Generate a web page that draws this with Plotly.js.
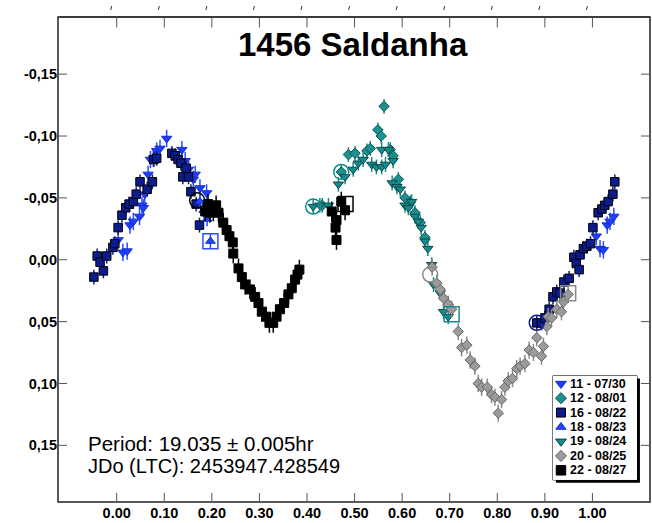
<!DOCTYPE html>
<html>
<head>
<meta charset="utf-8">
<script src="https://cdn.plot.ly/plotly-3.0.1.min.js"></script>
<style>
  html, body { margin: 0; padding: 0; background: #ffffff; }
  #chart { width: 652px; height: 523px; }
</style>
</head>
<body>
<div id="chart"></div>
<script>
// Session labels, in legend order
const sessionNames = ['11 - 07/30', '12 - 08/01', '16 - 08/22', '18 - 08/23', '19 - 08/24', '20 - 08/25', '22 - 08/27'];

// Phased photometry: rotational phase and reduced magnitude per session
const s11Phase = [0.003, 0.013, 0.022, 0.028, 0.035, 0.048, 0.053, 0.056, 0.059, 0.066, 0.071, 0.077, 0.084, 0.091, 0.105, 0.137, 0.144, 0.151, 0.161, 0.165, 0.175, 0.189, 1.008, 1.016, 1.023, 1.031, 1.037, 1.045];
const s11Mag   = [-0.016, -0.006, -0.007, -0.028, -0.031, -0.035, -0.044, -0.042, -0.053, -0.069, -0.081, -0.082, -0.088, -0.090, -0.098, -0.089, -0.080, -0.073, -0.065, -0.069, -0.058, -0.054, -0.019, -0.009, -0.008, -0.028, -0.031, -0.035];

const s12Phase = [0.432, 0.472, 0.487, 0.501, 0.526, 0.533, 0.549, 0.556, 0.562, 0.575, 0.581, 0.592, 0.606, 0.617, 0.627, 0.638, 0.648];
const s12Mag   = [-0.044, -0.071, -0.085, -0.086, -0.088, -0.090, -0.105, -0.100, -0.124, -0.089, -0.084, -0.065, -0.050, -0.046, -0.038, -0.030, -0.018];

const s16Phase = [-0.048, -0.041, -0.035, -0.028, -0.021, -0.008, -0.004, 0.003, 0.011, 0.019, 0.026, 0.035, 0.041, 0.049, 0.064, 0.075, 0.078, 0.084, 0.116, 0.123, 0.129, 0.135, 0.139, 0.146, 0.151, 0.156, 0.167, 0.174,
                  0.883, 0.893, 0.900, 0.909, 0.917, 0.925, 0.932, 0.940, 0.951, 0.961, 0.966, 0.972, 0.974, 0.981, 0.988, 0.996, 1.001, 1.012, 1.020, 1.026, 1.033, 1.043, 1.047];
const s16Mag   = [0.014, -0.003, 0.002, 0.009, -0.003, -0.010, -0.013, -0.026, -0.036, -0.042, -0.045, -0.047, -0.053, -0.063, -0.057, -0.063, -0.081, -0.082, -0.086, -0.084, -0.081, -0.078, -0.067, -0.074, -0.067, -0.055, -0.045, -0.028,
                  0.051, 0.051, 0.047, 0.040, 0.030, 0.026, 0.027, 0.018, 0.015, -0.002, 0.003, 0.008, -0.004, -0.009, -0.011, -0.013, -0.026, -0.038, -0.041, -0.044, -0.047, -0.053, -0.063];

const s18Phase = [0.175, 0.183, 0.190, 0.197];
const s18Mag   = [-0.047, -0.040, -0.033, -0.015];

const s19Phase = [0.413, 0.427, 0.445, 0.466, 0.480, 0.497, 0.508, 0.518, 0.536, 0.546, 0.557, 0.565, 0.557, 0.571, 0.581, 0.579, 0.589, 0.596, 0.606, 0.613, 0.620, 0.627, 0.634, 0.640, 0.648, 0.654, 0.662, 0.666, 0.680, 0.687, 0.697];
const s19Mag   = [-0.043, -0.044, -0.044, -0.061, -0.067, -0.073, -0.078, -0.081, -0.077, -0.075, -0.075, -0.077, -0.089, -0.089, -0.080, -0.062, -0.059, -0.057, -0.044, -0.042, -0.047, -0.035, -0.031, -0.026, -0.015, -0.009, 0.004, 0.020, 0.027, 0.042, 0.046];

const s20Phase = [0.663, 0.673, 0.680, 0.687, 0.697, 0.704, 0.718, 0.725, 0.736, 0.743, 0.753, 0.760, 0.767, 0.779, 0.788, 0.795, 0.802, 0.809, 0.816, 0.823, 0.832, 0.841, 0.848, 0.858, 0.867, 0.876, 0.883, 0.893, 0.897, 0.904, 0.907, 0.914, 0.925, 0.935, 0.939, 0.949];
const s20Mag   = [0.006, 0.019, 0.024, 0.031, 0.036, 0.040, 0.058, 0.071, 0.069, 0.081, 0.086, 0.100, 0.103, 0.103, 0.109, 0.111, 0.124, 0.113, 0.103, 0.098, 0.096, 0.088, 0.086, 0.084, 0.073, 0.075, 0.063, 0.078, 0.070, 0.054, 0.046, 0.047, 0.040, 0.042, 0.034, 0.028];

const s22Phase = [0.186, 0.192, 0.196, 0.203, 0.209, 0.214, 0.224, 0.231, 0.237, 0.244, 0.245, 0.256, 0.263, 0.270, 0.280, 0.291, 0.298, 0.305, 0.314, 0.321, 0.329, 0.336, 0.343, 0.352, 0.361, 0.368, 0.375, 0.380, 0.384, 0.452, 0.460, 0.462, 0.462, 0.472, 0.480];
const s22Mag   = [-0.039, -0.045, -0.038, -0.039, -0.044, -0.038, -0.030, -0.024, -0.019, -0.014, -0.005, 0.007, 0.014, 0.020, 0.024, 0.030, 0.035, 0.042, 0.046, 0.051, 0.051, 0.046, 0.040, 0.035, 0.028, 0.023, 0.016, 0.012, 0.008, -0.039, -0.026, -0.032, -0.016, -0.047, -0.040];

// Magnitude uncertainty per session
const sessionErr = [0.007, 0.006, 0.006, 0.006, 0.006, 0.007, 0.008];

// Session start markers (ringed / boxed points)
const circlePhase   = [0.169, 0.413, 0.472, 0.659, 0.883];
const circleMag     = [-0.048, -0.043, -0.071, 0.012, 0.051];
const circleSession = [6, 4, 1, 5, 2];
const boxPhase      = [0.197, 0.481, 0.704, 0.949];
const boxMag        = [-0.015, -0.045, 0.044, 0.027];
const boxSession    = [3, 6, 4, 5];

// Axis ticks
const xTickVals = [0.0, 0.1, 0.2, 0.3, 0.4, 0.5, 0.6, 0.7, 0.8, 0.9, 1.0];
const xTickText = ['0.00', '0.10', '0.20', '0.30', '0.40', '0.50', '0.60', '0.70', '0.80', '0.90', '1.00'];
const yTickVals = [-0.15, -0.10, -0.05, 0.0, 0.05, 0.10, 0.15];
const yTickText = ['-0,15', '-0,10', '-0,05', '0,00', '0,05', '0,10', '0,15'];

// ---- styling ----
const FONT = 'Liberation Sans, Arial, Helvetica, sans-serif';
const W = 652, H = 523;
const M = { l: 58, r: 2, t: 17, b: 21 };
const PW = W - M.l - M.r, PH = H - M.t - M.b;
const X_RANGE = [-0.1234, 1.121];
const Y_RANGE = [0.1958, -0.1962];
const xFrac = function (v) { return (v - X_RANGE[0]) / (X_RANGE[1] - X_RANGE[0]); };
const yFrac = function (v) { return (v - Y_RANGE[0]) / (Y_RANGE[1] - Y_RANGE[0]); };

const styles = [
  { symbol: 'triangle-down', size: 9,   color: '#1f3dff', line: '#1530c8', err: '#2a4dff' },
  { symbol: 'diamond',       size: 8,   color: '#1b9191', line: '#0b4f4f', err: '#168c8c' },
  { symbol: 'square',        size: 8.5, color: '#0c1c8c', line: '#000000', err: '#0c1c8c' },
  { symbol: 'triangle-up',   size: 8.5, color: '#2546ff', line: '#1530c8', err: '#2a4dff' },
  { symbol: 'triangle-down', size: 9,   color: '#158a8a', line: '#0b4a4a', err: '#168c8c' },
  { symbol: 'diamond',       size: 8,   color: '#9b9b9b', line: '#666666', err: '#8a8a8a' },
  { symbol: 'square',        size: 9,   color: '#000000', line: '#000000', err: '#000000' }
];
const seriesData = [
  [s11Phase, s11Mag], [s12Phase, s12Mag], [s16Phase, s16Mag], [s18Phase, s18Mag],
  [s19Phase, s19Mag], [s20Phase, s20Mag], [s22Phase, s22Mag]
];
// drawing order so that later nights sit on top
const drawOrder = [0, 2, 3, 1, 4, 5, 6];

const traces = [];
drawOrder.forEach(function (i) {
  const st = styles[i];
  traces.push({
    type: 'scatter', mode: 'markers', name: sessionNames[i],
    x: seriesData[i][0], y: seriesData[i][1],
    xaxis: 'x', yaxis: 'y', showlegend: false, hoverinfo: 'skip',
    marker: { symbol: st.symbol, size: st.size, color: st.color, line: { color: st.line, width: 1 } },
    error_y: { type: 'constant', value: sessionErr[i], color: st.err, thickness: 1.5, width: 0 }
  });
});

traces.push({
  type: 'scatter', mode: 'markers', x: circlePhase, y: circleMag,
  xaxis: 'x', yaxis: 'y', showlegend: false, hoverinfo: 'skip',
  marker: { symbol: 'circle-open', size: 15, color: circleSession.map(function (s) { return styles[s].err; }), line: { width: 1.5 } }
});
traces.push({
  type: 'scatter', mode: 'markers', x: boxPhase, y: boxMag,
  xaxis: 'x', yaxis: 'y', showlegend: false, hoverinfo: 'skip',
  marker: { symbol: 'square-open', size: 15, color: boxSession.map(function (s) { return styles[s].err; }), line: { width: 1.5 } }
});

// Compact key drawn in its own small frame (units are pixels inside the key box)
const KEY_ROW0 = 8, KEY_ROW_STEP = 14.4;
const annotations = [];
sessionNames.forEach(function (name, i) {
  const st = styles[i];
  const ry = KEY_ROW0 + KEY_ROW_STEP * i;
  traces.push({
    type: 'scatter', mode: 'markers', x: [8], y: [ry],
    xaxis: 'x3', yaxis: 'y3', showlegend: false, hoverinfo: 'skip',
    marker: { symbol: st.symbol, size: st.size + 0.5, color: st.color, line: { color: st.line, width: 1 } }
  });
  annotations.push({
    xref: 'x3', yref: 'y3', x: 15, y: ry, xanchor: 'left', yanchor: 'middle',
    text: name, showarrow: false,
    font: { family: FONT, size: 12.5, color: '#000', weight: 'bold' }
  });
});

// Chart heading
annotations.push({
  xref: 'paper', yref: 'paper', x: 0.498, y: 1 - 27 / PH, xanchor: 'center', yanchor: 'middle',
  text: '<b>1456 Saldanha</b>', showarrow: false,
  font: { family: FONT, size: 33, color: '#000' }
});

// Fit summary text
annotations.push({
  xref: 'paper', yref: 'paper', x: 0.047, y: 0.121, xanchor: 'left', yanchor: 'middle',
  text: 'Period: 19.035 ± 0.005hr', showarrow: false,
  font: { family: FONT, size: 20.5, color: '#000' }
});
annotations.push({
  xref: 'paper', yref: 'paper', x: 0.047, y: 0.074, xanchor: 'left', yanchor: 'middle',
  text: 'JDo (LTC): 2453947.428549', showarrow: false,
  font: { family: FONT, size: 20, color: '#000' }
});

// top edge of the frame and its inward ticks, drawn as plain connector lines
annotations.push({
  xref: 'paper', yref: 'paper', x: 1, y: 1, ax: -PW, ay: 0, axref: 'pixel', ayref: 'pixel',
  text: '', showarrow: true, arrowhead: 0, arrowwidth: 1.5, arrowcolor: '#333', standoff: 0, startstandoff: 0
});
xTickVals.forEach(function (v) {
  annotations.push({
    xref: 'paper', yref: 'paper', x: xFrac(v), y: 1, ax: 0, ay: 12, axref: 'pixel', ayref: 'pixel',
    text: '', showarrow: true, arrowhead: 0, arrowwidth: 1, arrowcolor: '#555', standoff: 0, startstandoff: 0
  });
});

// key box geometry (paper units)
const kx0 = 0.8361, kx1 = 0.9780, ky0 = 0.0455, ky1 = 0.2604;
const shapes = [
  { type: 'rect', xref: 'paper', yref: 'paper', layer: 'below',
    x0: kx0 + 0.005, x1: kx1 + 0.005, y0: ky0 - 0.006, y1: ky1 - 0.006,
    fillcolor: '#000', line: { width: 0 } },
  { type: 'rect', xref: 'paper', yref: 'paper', layer: 'below',
    x0: kx0, x1: kx1, y0: ky0, y1: ky1,
    fillcolor: '#fff', line: { color: '#000', width: 1 } },
  // plot frame
  { type: 'rect', xref: 'paper', yref: 'paper', layer: 'above',
    x0: 0, x1: 1, y0: 0, y1: 1, line: { color: '#222', width: 1.5 } }
];

// inward tick marks, plus the small strokes above the top edge
const TICK_COLOR = '#555';
xTickVals.forEach(function (v) {
  const fx = xFrac(v);
  shapes.push({ type: 'line', xref: 'paper', yref: 'paper', layer: 'above',
    x0: fx, x1: fx, y0: 0, y1: 9 / PH, line: { color: TICK_COLOR, width: 1 } });
  shapes.push({ type: 'line', xref: 'paper', yref: 'paper', layer: 'above',
    x0: fx - 6 / PW, x1: fx - 5 / PW, y0: 1 + 7 / PH, y1: 1 + 11 / PH, line: { color: '#333', width: 1 } });
});
yTickVals.forEach(function (v) {
  const fy = yFrac(v);
  shapes.push({ type: 'line', xref: 'paper', yref: 'paper', layer: 'above',
    x0: 0, x1: 9 / PW, y0: fy, y1: fy, line: { color: TICK_COLOR, width: 1 } });
  shapes.push({ type: 'line', xref: 'paper', yref: 'paper', layer: 'above',
    x0: 1, x1: 1 - 9 / PW, y0: fy, y1: fy, line: { color: TICK_COLOR, width: 1 } });
});

const tickFont = { family: FONT, size: 14.5, color: '#000', weight: 'bold' };

const layout = {
  width: W, height: H,
  margin: { l: M.l, r: M.r, t: M.t, b: M.b, pad: 0 },
  paper_bgcolor: '#ffffff', plot_bgcolor: '#ffffff',
  showlegend: false,
  xaxis: {
    range: X_RANGE, showgrid: false, zeroline: false, showline: false,
    tickmode: 'array', tickvals: xTickVals, ticktext: xTickText,
    ticks: '', tickfont: tickFont
  },
  yaxis: {
    range: Y_RANGE, showgrid: false, zeroline: false, showline: false,
    tickmode: 'array', tickvals: yTickVals, ticktext: yTickText,
    ticks: '', tickfont: tickFont
  },
  xaxis3: { domain: [kx0, kx1], range: [0, 84], anchor: 'y3', visible: false, fixedrange: true },
  yaxis3: { domain: [ky0, ky1], range: [104, 0], anchor: 'x3', visible: false, fixedrange: true },
  shapes: shapes,
  annotations: annotations
};

Plotly.newPlot('chart', traces, layout, { displayModeBar: false, staticPlot: true });
</script>
</body>
</html>
